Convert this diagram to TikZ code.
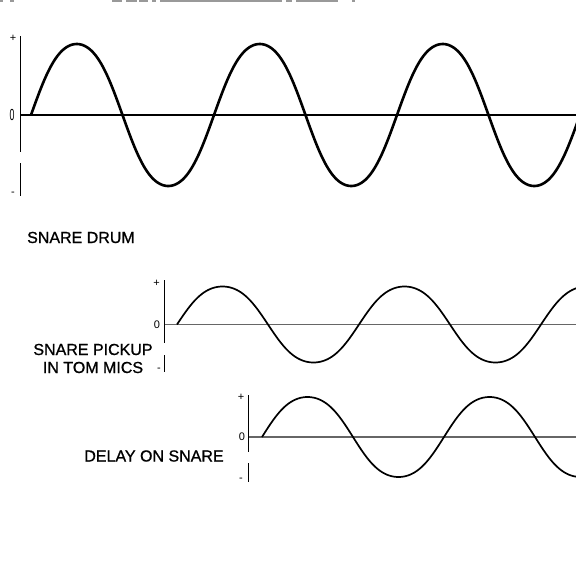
\documentclass[tikz,border=0pt]{standalone}
\usepackage{fontspec}
\setmainfont{Liberation Sans}
\newfontfamily\lblfont[FakeBold=1]{Liberation Sans}
\begin{document}
\begin{tikzpicture}[x=1pt,y=-1pt,
  lbl/.style={font=\lblfont\fontsize{16}{18}\selectfont, inner sep=0pt},
  sml/.style={font=\fontsize{11}{11}\selectfont, inner sep=0pt},
  axisline/.style={line width=0.9pt, black},
  zeroblack/.style={line width=1.6pt, black},
  zerogray/.style={line width=1.5pt, black!60},
  bigwave/.style={line width=2.6pt, black, line join=round},
  smallwave/.style={line width=1.7pt, black, line join=round},
  artifact/.style={line width=2pt, black!40},
  declare function={fs(\t)=(sin(\t)+0.035*sin(3*\t))/0.965;}]
\useasboundingbox (0,0) rectangle (576,576);
\clip (0,0) rectangle (576,576);
% faint cropped remnants at top edge
\foreach \a/\b in {0/3,10/14,112/122,126/137,139/148,152/156,160/282,286/292,296/338,352/355}
  \draw[artifact] (\a,1) -- (\b,1);
% ---- top graph ----
\draw[axisline] (20,36) -- (20,152);
\draw[axisline] (20,163) -- (20,196);
\draw[zeroblack] (20,115) -- (576,115);
\draw[bigwave] plot[domain=31:580,samples=400,smooth] (\x,{115-71*fs((\x-31)/91.5*180)});
\node[sml] (tp) at (13,38) {+};
\node[sml, font=\fontsize{16}{16}\selectfont, xscale=0.55] (tz) at (12,115) {0};
\node[sml] (tm) at (13,194) {-};
% ---- middle graph ----
\draw[axisline] (164.5,280) -- (164.5,343);
\draw[axisline] (164.5,355) -- (164.5,372);
\draw[zerogray] (164.5,324.5) -- (576,324.5);
\draw[smallwave] plot[domain=177:580,samples=300,smooth] (\x,{324.5-38*fs((\x-177)/91*180)});
\node[sml] (mp) at (156.5,283) {+};
\node[sml] (mz) at (157,324.5) {0};
\node[sml] (mm) at (159,370) {-};
% ---- bottom graph ----
\draw[axisline] (248.5,395) -- (248.5,452);
\draw[axisline] (248.5,463) -- (248.5,482);
\draw[zerogray] (248.5,437) -- (576,437);
\draw[smallwave] plot[domain=262:580,samples=260,smooth] (\x,{437-40*fs((\x-262)/91*180)});
\node[sml] (bp) at (241,397) {+};
\node[sml] (bz) at (242,437) {0};
\node[sml] (bm) at (241,480) {-};
% ---- labels ----
\node[lbl, anchor=base west] (snare) at (27,243) {SNARE DRUM};
\node[lbl, anchor=base] (pick1) at (93,355) {SNARE PICKUP};
\node[lbl, anchor=base] (pick2) at (93,373) {IN TOM MICS};
\node[lbl, anchor=base] (delay) at (154,461.5) {DELAY ON SNARE};
\end{tikzpicture}
\end{document}
